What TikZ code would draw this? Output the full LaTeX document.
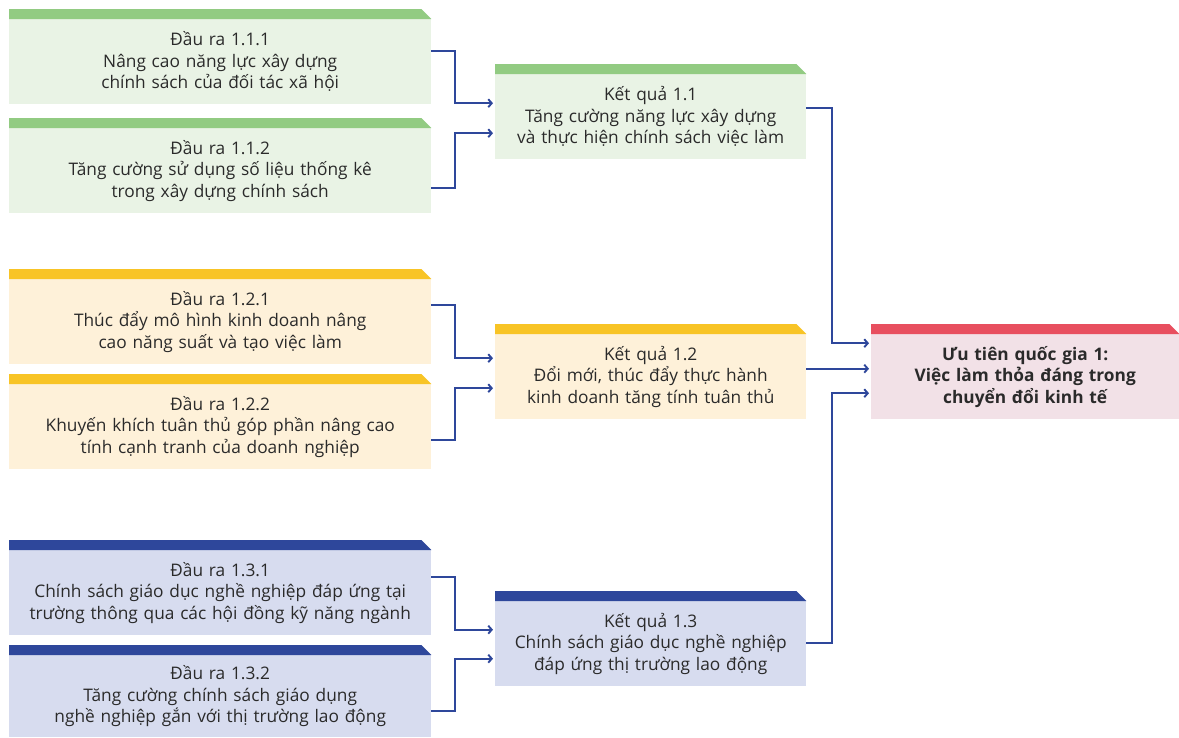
\documentclass[tikz,border=0pt]{standalone}
\usepackage{fontspec}
\setmainfont{Open Sans}
\usetikzlibrary{arrows.meta,calc}
\definecolor{grnbar}{HTML}{92CB82}
\definecolor{grnbody}{HTML}{E9F3E5}
\definecolor{yelbar}{HTML}{F8C426}
\definecolor{yelbody}{HTML}{FEF1D9}
\definecolor{blubar}{HTML}{2E479B}
\definecolor{blubody}{HTML}{D7DCEF}
\definecolor{redbar}{HTML}{E84F5F}
\definecolor{redbody}{HTML}{F2E1E7}
\definecolor{linkc}{HTML}{2E479B}
\definecolor{txt}{HTML}{2A2A2A}
\newcommand\hdrbar[2]{\fill[fill=#2] (#1.north west) -- ++(0,-10) -- ($(#1.north east)+(-10,-10)$) -- (#1.north east) -- cycle;}
\tikzset{
  box/.style={anchor=north west, inner sep=0pt, align=center, font=\fontsize{17.3}{21.5}\selectfont, text=txt},
  lbox/.style={box, minimum width=422pt, minimum height=85pt, text width=418pt},
  mbox/.style={box, minimum width=311pt, minimum height=85pt, text width=308pt},
  rbox/.style={box, minimum width=308pt, minimum height=85pt, text width=304pt, font=\fontsize{17.3}{21.5}\selectfont\bfseries},
  linkarrow/.style={draw=linkc, line width=1.9pt, -{Straight Barb[length=3.5pt,width=8pt]}, shorten >=2pt}
}
\begin{document}
\begin{tikzpicture}[x=1pt,y=-1pt]
\useasboundingbox (0,0) rectangle (1179,737);
% left column
\node[lbox, fill=grnbody] (o111) at (9,19) {Đầu ra 1.1.1\\Nâng cao năng lực xây dựng\\chính sách của đối tác xã hội};
\node[lbox, fill=grnbody] (o112) at (9,128) {Đầu ra 1.1.2\\Tăng cường sử dụng số liệu thống kê\\trong xây dựng chính sách};
\node[lbox, fill=yelbody] (o121) at (9,279) {Đầu ra 1.2.1\\Thúc đẩy mô hình kinh doanh nâng\\cao năng suất và tạo việc làm};
\node[lbox, fill=yelbody] (o122) at (9,384) {Đầu ra 1.2.2\\Khuyến khích tuân thủ góp phần nâng cao\\tính cạnh tranh của doanh nghiệp};
\node[lbox, fill=blubody] (o131) at (9,550) {Đầu ra 1.3.1\\Chính sách giáo dục nghề nghiệp đáp ứng tại\\trường thông qua các hội đồng kỹ năng ngành};
\node[lbox, fill=blubody, minimum height=82pt] (o132) at (9,655) {Đầu ra 1.3.2\\Tăng cường chính sách giáo dụng\\nghề nghiệp gắn với thị trường lao động};
% middle column
\node[mbox, fill=grnbody] (k11) at (495,74) {Kết quả 1.1\\Tăng cường năng lực xây dựng\\và thực hiện chính sách việc làm};
\node[mbox, fill=yelbody] (k12) at (495,334) {Kết quả 1.2\\Đổi mới, thúc đẩy thực hành\\kinh doanh tăng tính tuân thủ};
\node[mbox, fill=blubody] (k13) at (495,601) {Kết quả 1.3\\Chính sách giáo dục nghề nghiệp\\đáp ứng thị trường lao động};
% right
\node[rbox, fill=redbody] (ut) at (871,334) {Ưu tiên quốc gia 1:\\Việc làm thỏa đáng trong\\chuyển đổi kinh tế};
% header bars
\hdrbar{o111}{grnbar}
\hdrbar{o112}{grnbar}
\hdrbar{o121}{yelbar}
\hdrbar{o122}{yelbar}
\hdrbar{o131}{blubar}
\hdrbar{o132}{blubar}
\hdrbar{k11}{grnbar}
\hdrbar{k12}{yelbar}
\hdrbar{k13}{blubar}
\hdrbar{ut}{redbar}
% connectors
\draw[linkarrow] ($(o111.east)+(0,-10.5)$) -- ++(24,0) |- ($(k11.west)+(0,-13.5)$);
\draw[linkarrow] ($(o112.east)+(0,17)$) -- ++(24,0) |- ($(k11.west)+(0,16.5)$);
\draw[linkarrow] ($(o121.east)+(0,-16.5)$) -- ++(24,0) |- ($(k12.west)+(0,-18.5)$);
\draw[linkarrow] ($(o122.east)+(0,13.5)$) -- ++(24,0) |- ($(k12.west)+(0,11.5)$);
\draw[linkarrow] ($(o131.east)+(0,-15.5)$) -- ++(24,0) |- ($(k13.west)+(0,-14)$);
\draw[linkarrow] ($(o132.east)+(0,15)$) -- ++(24,0) |- ($(k13.west)+(0,15)$);
\draw[linkarrow] ($(k11.east)+(0,-8.5)$) -- ++(26,0) |- ($(ut.west)+(0,-33.5)$);
\draw[linkarrow] ($(k12.east)+(0,-8)$) -- ($(ut.west)+(0,-8)$);
\draw[linkarrow] ($(k13.east)+(0,-1)$) -- ++(26,0) |- ($(ut.west)+(0,16.5)$);
\end{tikzpicture}
\end{document}
